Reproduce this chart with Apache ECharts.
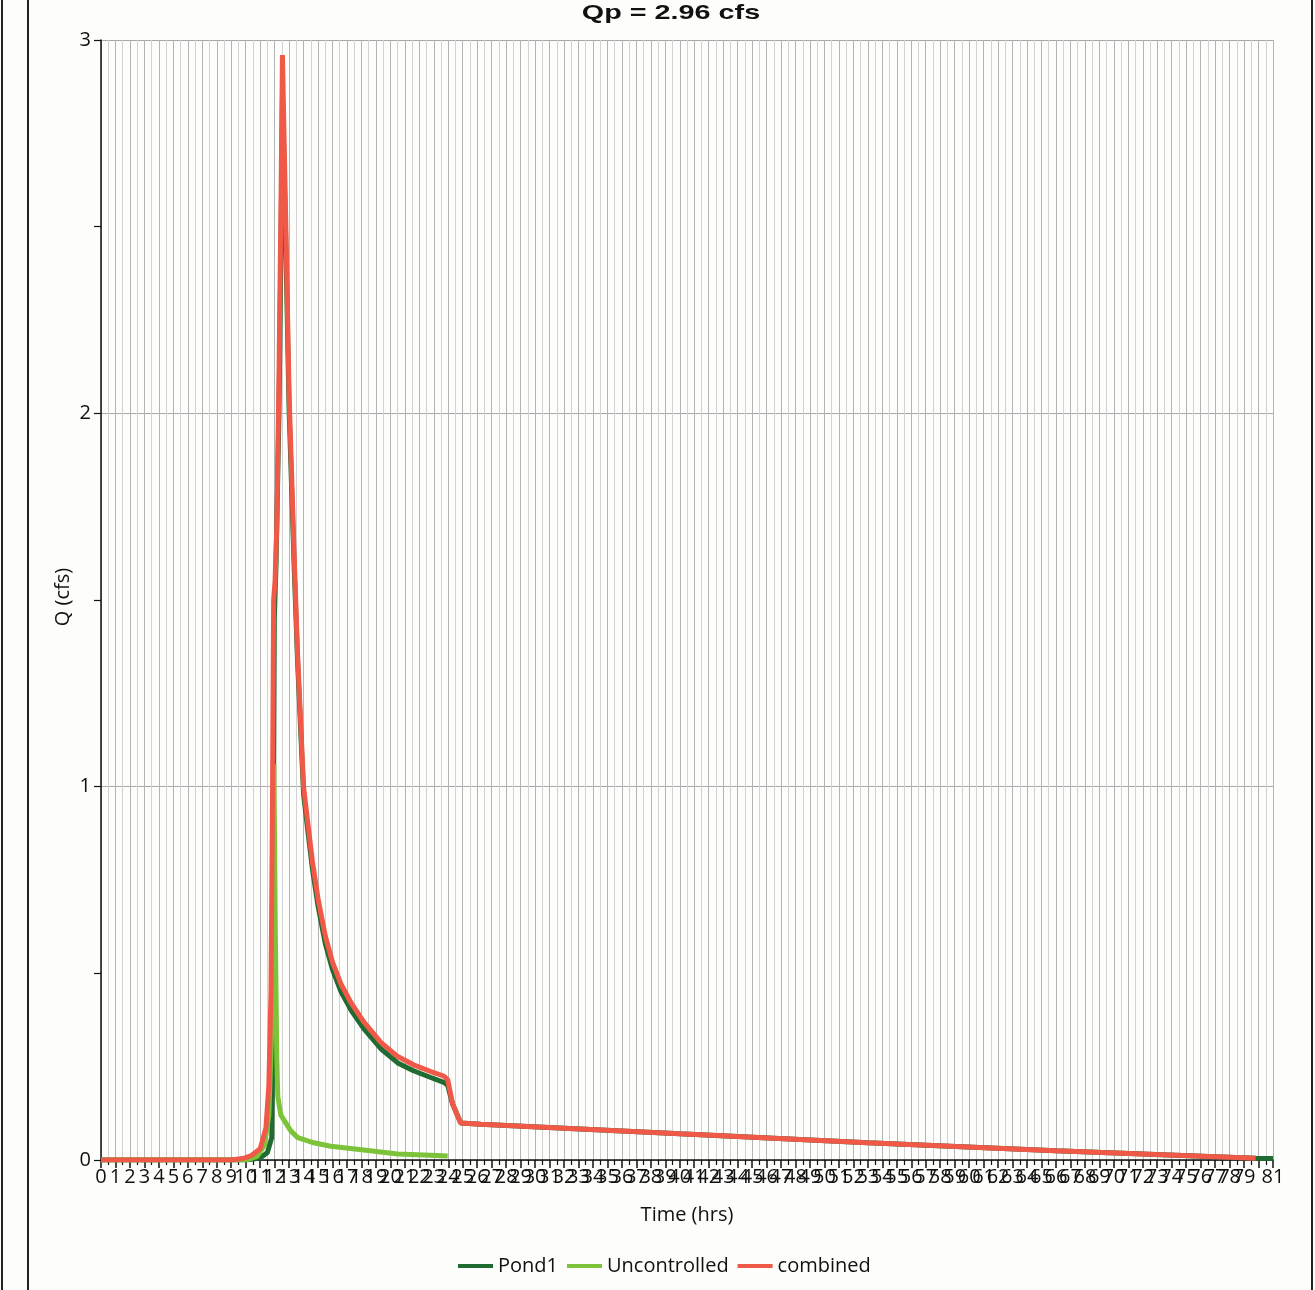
<!DOCTYPE html>
<html>
<head>
<meta charset="utf-8">
<script src="https://cdn.jsdelivr.net/npm/echarts@6/dist/echarts.min.js"></script>
<style>
  html, body { margin: 0; padding: 0; background: #fdfdfb; }
  #chart { width: 1315px; height: 1290px; }
</style>
</head>
<body>
<div id="chart"></div>
<script>
// Hydrograph: outflow (cfs) against time (hrs)
const chartTitle = 'Qp = 2.96 cfs';

const pondTime = [0, 10, 11.0, 11.5, 11.8, 11.88, 11.93, 11.98, 12.1, 12.3, 12.45, 12.54, 12.62, 12.78, 13.0, 13.34, 13.58, 14.0, 14.3, 14.61, 15.0, 15.5, 16.0, 16.6, 17.3, 18.16, 19.34, 20.51, 21.6, 22.79, 23.69, 23.96, 24.3, 24.86, 26.24, 40, 53, 66, 79.8, 81];
const pondQ    = [0, 0, 0.005, 0.02, 0.06, 0.3, 1.0, 1.45, 1.6, 2.0, 2.48, 2.85, 2.72, 2.44, 2.01, 1.6, 1.34, 0.98, 0.88, 0.78, 0.68, 0.58, 0.51, 0.45, 0.4, 0.352, 0.298, 0.26, 0.239, 0.221, 0.208, 0.2, 0.15, 0.099, 0.096, 0.07, 0.046, 0.025, 0.005, 0.004];

const uncontrolledTime = [0, 10, 10.8, 11.3, 11.6, 11.8, 11.95, 12.05, 12.15, 12.22, 12.43, 13.12, 13.6, 14.71, 15.88, 18.16, 20.51, 22.79, 23.96];
const uncontrolledQ    = [0, 0, 0.01, 0.04, 0.12, 0.35, 1.06, 0.6, 0.27, 0.17, 0.12, 0.078, 0.06, 0.046, 0.037, 0.027, 0.016, 0.013, 0.011];

const combinedTime = [0, 9, 9.9, 10.4, 11.0, 11.4, 11.6, 11.75, 11.85, 11.93, 12.03, 12.15, 12.3, 12.45, 12.54, 12.62, 12.78, 13.0, 13.34, 13.58, 14.0, 14.3, 14.61, 15.0, 15.5, 16.0, 16.6, 17.3, 18.16, 19.34, 20.51, 21.6, 22.79, 23.69, 23.96, 24.3, 24.86, 26.24, 40, 53, 66, 79.8];
const combinedQ    = [0, 0, 0.005, 0.012, 0.03, 0.086, 0.2, 0.45, 0.95, 1.5, 1.55, 1.7, 2.1, 2.6, 2.96, 2.8, 2.49, 2.05, 1.63, 1.36, 1.0, 0.9, 0.8, 0.7, 0.6, 0.53, 0.47, 0.42, 0.37, 0.315, 0.277, 0.255, 0.237, 0.225, 0.215, 0.15, 0.099, 0.096, 0.07, 0.046, 0.025, 0.005];

const xMin = 0, xMax = 81;
const yMin = 0, yMax = 3;

const zip = (t, q) => t.map((v, i) => [v, q[i]]);
const font = '"Open Sans", "Noto Sans", sans-serif';

const chart = echarts.init(document.getElementById('chart'), null, { renderer: 'canvas' });

chart.setOption({
  backgroundColor: '#fdfdfb',
  animation: false,
  grid: { left: 101, right: 42, top: 40, bottom: 130, containLabel: false },
  legend: {
    left: 453,
    top: 1251,
    icon: 'rect',
    itemWidth: 35,
    itemHeight: 4,
    itemGap: 9,
    textStyle: { fontFamily: font, fontSize: 20, color: '#111' },
    data: ['Pond1', 'Uncontrolled', 'combined']
  },
  xAxis: {
    type: 'value',
    min: xMin,
    max: xMax,
    interval: 1,
    name: 'Time (hrs)',
    nameLocation: 'middle',
    nameGap: 45,
    nameTextStyle: { fontFamily: font, fontSize: 20, color: '#111' },
    axisLine: { show: true, onZero: false, lineStyle: { color: '#111', width: 1.5 } },
    axisTick: { show: true, length: 8, lineStyle: { color: '#111', width: 1.5 } },
    minorTick: { show: true, splitNumber: 2, length: 5, lineStyle: { color: '#111', width: 1.2 } },
    axisLabel: {
      interval: 0,
      hideOverlap: false,
      margin: 7,
      fontFamily: font,
      fontSize: 20,
      color: '#111',
      showMinLabel: true,
      showMaxLabel: true
    },
    splitLine: { show: true, lineStyle: { color: '#b4b4b4', width: 1 } },
    minorSplitLine: { show: true, lineStyle: { color: '#d2d2d2', width: 1 } }
  },
  yAxis: {
    type: 'value',
    min: yMin,
    max: yMax,
    interval: 1,
    axisLine: { show: true, onZero: false, lineStyle: { color: '#111', width: 1.5 } },
    axisTick: { show: true, length: 7, lineStyle: { color: '#111', width: 1.2 } },
    minorTick: { show: true, splitNumber: 2, length: 7, lineStyle: { color: '#111', width: 1.2 } },
    axisLabel: { margin: 10, fontFamily: font, fontSize: 20, color: '#111' },
    splitLine: { show: true, lineStyle: { color: '#a8a8a8', width: 1 } }
  },
  graphic: [
    { type: 'line', shape: { x1: 2, y1: 0, x2: 2, y2: 1290 }, style: { stroke: '#222', lineWidth: 2 } },
    { type: 'line', shape: { x1: 28, y1: 0, x2: 28, y2: 1290 }, style: { stroke: '#222', lineWidth: 2 } },
    { type: 'line', shape: { x1: 1312, y1: 0, x2: 1312, y2: 1290 }, style: { stroke: '#222', lineWidth: 2 } },
    {
      type: 'text',
      x: 671,
      y: 13,
      scaleX: 1.37,
      style: {
        text: chartTitle,
        fontFamily: '"Liberation Sans", Arial, sans-serif',
        fontWeight: 'bold',
        fontSize: 21,
        fill: '#111',
        align: 'center',
        verticalAlign: 'middle'
      }
    },
    {
      type: 'text',
      x: 63,
      y: 597,
      rotation: Math.PI / 2,
      style: {
        text: 'Q (cfs)',
        fontFamily: font,
        fontSize: 20,
        fill: '#111',
        align: 'center',
        verticalAlign: 'middle'
      }
    }
  ],
  series: [
    {
      name: 'Pond1',
      type: 'line',
      data: zip(pondTime, pondQ),
      symbol: 'none',
      z: 2,
      lineStyle: { color: '#1f6b32', width: 5 },
      itemStyle: { color: '#1f6b32' }
    },
    {
      name: 'Uncontrolled',
      type: 'line',
      data: zip(uncontrolledTime, uncontrolledQ),
      symbol: 'none',
      z: 3,
      lineStyle: { color: '#7cc33a', width: 5 },
      itemStyle: { color: '#7cc33a' }
    },
    {
      name: 'combined',
      type: 'line',
      data: zip(combinedTime, combinedQ),
      symbol: 'none',
      z: 4,
      lineStyle: { color: '#f05848', width: 5 },
      itemStyle: { color: '#f05848' }
    }
  ]
});
</script>
</body>
</html>
